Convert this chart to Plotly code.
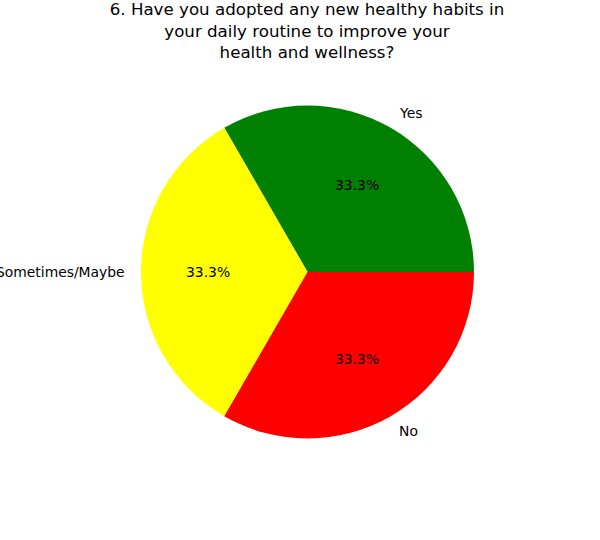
import math
import plotly.graph_objects as go

labels = ["Yes", "Sometimes/Maybe", "No"]
values = [1, 1, 1]
colors = ["green", "yellow", "red"]
title_text = "6. Have you adopted any new healthy habits in<br>your daily routine to improve your<br>health and wellness?"

W, H = 600, 540
cx, cy, r = 307.5, 272.0, 166.5  # pie centre/radius in pixels

fig = go.Figure(go.Pie(
    labels=labels, values=values, sort=False, direction="counterclockwise",
    rotation=-30, marker=dict(colors=colors, line=dict(width=0)),
    textinfo="none", hoverinfo="label+percent", showlegend=False,
    domain=dict(x=[(cx - r) / W, (cx + r) / W], y=[1 - (cy + r) / H, 1 - (cy - r) / H]),
))

total = sum(values)
start = 0.0
font = dict(family="DejaVu Sans", size=13.89, color="black")
for lab, v in zip(labels, values):
    frac = v / total
    mid = math.radians((start + frac / 2) * 360)
    start += frac
    lx, ly = cx + 1.1 * r * math.cos(mid), cy - 1.1 * r * math.sin(mid)
    right = math.cos(mid) > 0
    fig.add_annotation(x=lx / W, y=1 - ly / H, xref="paper", yref="paper", text=lab,
                       showarrow=False, font=font, xshift=-2 if right else 3,
                       xanchor="left" if right else "right", yanchor="middle")
    px, py = cx + 0.6 * r * math.cos(mid), cy - 0.6 * r * math.sin(mid)
    fig.add_annotation(x=px / W, y=1 - py / H, xref="paper", yref="paper",
                       text=f"{frac * 100:.1f}%", showarrow=False, font=font,
                       xanchor="center", yanchor="middle")

fig.update_layout(
    width=W, height=H, margin=dict(l=0, r=0, t=0, b=0),
    paper_bgcolor="white", plot_bgcolor="white",
    title=dict(text=title_text, x=307 / W, xanchor="center", y=0.9722, yanchor="top",
               font=dict(family="DejaVu Sans", size=16.67, color="black")),
)
fig.write_html("out.html", config={"displayModeBar": False},
               post_script="document.body.style.margin='0';")
